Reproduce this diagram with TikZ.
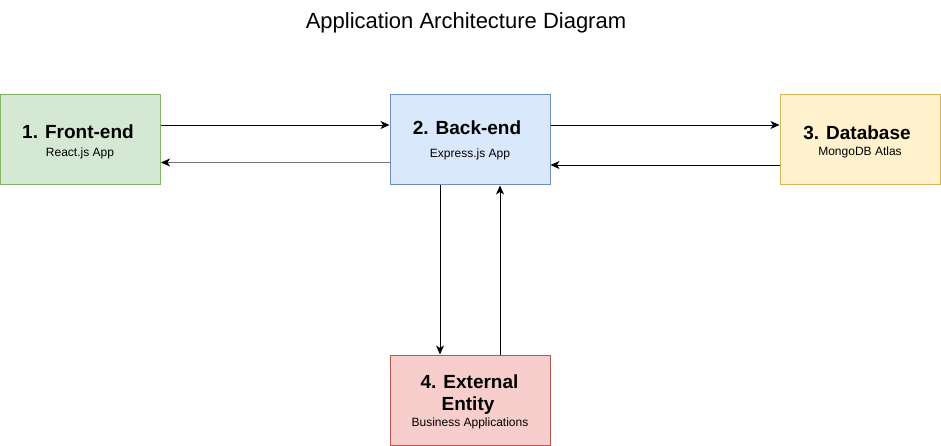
\documentclass[tikz,border=0pt]{standalone}
\usepackage{fontspec}
\setmainfont{Liberation Sans}
\usetikzlibrary{arrows.meta}
\definecolor{gfill}{HTML}{D5E8D4}\definecolor{gline}{HTML}{82B366}
\definecolor{bfill}{HTML}{DAE8FC}\definecolor{bline}{HTML}{6C8EBF}
\definecolor{yfill}{HTML}{FFF2CC}\definecolor{yline}{HTML}{D6B656}
\definecolor{rfill}{HTML}{F8CECC}\definecolor{rline}{HTML}{B85450}
\begin{document}
\begin{tikzpicture}[x=1pt,y=-1pt,
  box/.style={draw, line width=1pt, minimum width=160pt, minimum height=90pt, inner sep=0pt},
  head/.style={font=\fontsize{19}{22}\selectfont\bfseries, anchor=base, inner sep=0pt},
  sub/.style={font=\fontsize{12}{14}\selectfont, anchor=base, inner sep=0pt},
  conn/.style={line width=0.9pt, -{Stealth[length=9pt,width=8pt,inset=2.5pt,color=black]}}]
\useasboundingbox (0,0) rectangle (941,446);
\node[font=\fontsize{22}{26}\selectfont, anchor=base, inner sep=0pt] (title) at (466,29) {Application Architecture Diagram};
\node[box, fill=gfill, draw=gline] (fe) at (80.5,140) {};
\node[box, fill=bfill, draw=bline] (be) at (470,140) {};
\node[box, fill=yfill, draw=yline] (db) at (860,140) {};
\node[box, fill=rfill, draw=rline] (ex) at (470,400) {};
\node[head] (fe1) at (78,139) {1. Front-end};
\node[sub] (fe2) at (80,157) {React.js App};
\node[head] (be1) at (467,135) {2. Back-end};
\node[sub] (be2) at (470,158) {Express.js App};
\node[head] (db1) at (857,140) {3. Database};
\node[sub] (db2) at (860,156) {MongoDB Atlas};
\node[head] (ex1) at (469.5,388) {4. External};
\node[head] (ex2) at (468,410) {Entity};
\node[sub] (ex3) at (470,426) {Business Applications};
\draw[conn] (fe.east |- 0,125) -- (be.west |- 0,125);
\draw[conn, draw=black!55, line width=1.2pt] (be.west |- 0,162.5) -- (fe.east |- 0,162.5);
\draw[conn] (be.east |- 0,125) -- (db.west |- 0,125);
\draw[conn] (db.west |- 0,165) -- (be.east |- 0,165);
\draw[conn] (be.south -| 440,0) -- (ex.north -| 440,0);
\draw[conn] (ex.north -| 500,0) -- (be.south -| 500,0);
\end{tikzpicture}
\end{document}
